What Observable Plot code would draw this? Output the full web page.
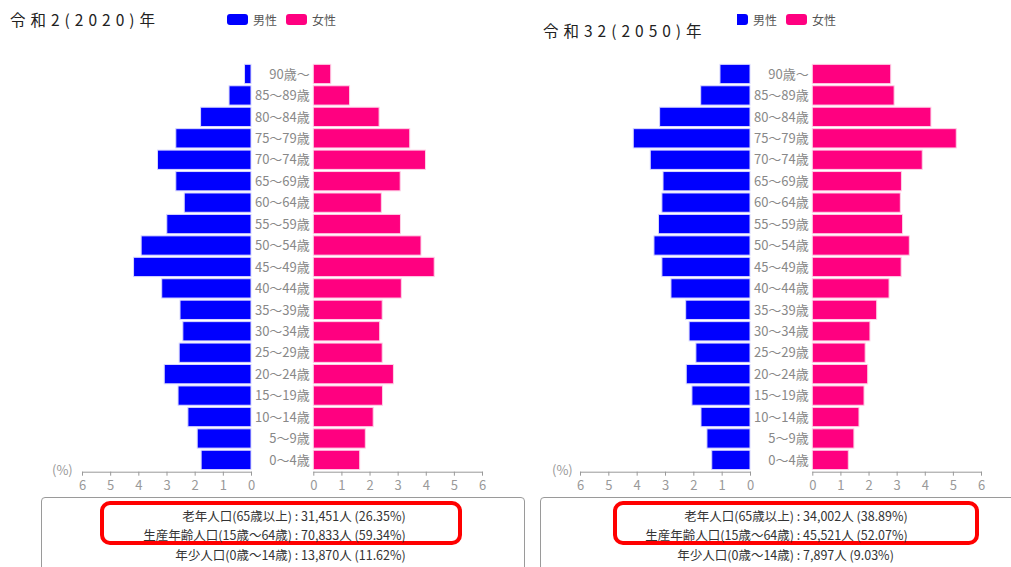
<!DOCTYPE html>
<html>
<head>
<meta charset="utf-8">
<script src="https://cdn.jsdelivr.net/npm/d3@7"></script>
<script src="https://cdn.jsdelivr.net/npm/@observablehq/plot@0.6"></script>
<style>
  html, body { margin: 0; padding: 0; background: #fff; }
  body { width: 1011px; height: 567px; position: relative; overflow: hidden;
         font-family: "Noto Sans CJK JP", "Noto Sans", sans-serif; }
  .abs { position: absolute; }
  .title { font-size: 15.5px; color: #222; letter-spacing: 5px; white-space: nowrap; }
  .legend { font-size: 12px; color: #555; display: flex; align-items: center; white-space: nowrap; }
  .sw { display: inline-block; width: 21px; height: 11px; border-radius: 3px; margin-right: 5px; }
  .pct { font-size: 13px; color: #999; }
  .box { border: 1.5px solid #9a9a9a; border-radius: 4px; box-sizing: border-box; }
  .red { border: 4px solid #ff0000; border-radius: 10px; box-sizing: border-box; }
  .sum { font-size: 12.5px; color: #333; line-height: 19.5px; white-space: nowrap; }
  .sum .row { display: flex; }
  .sum .lab { text-align: right; }
</style>
</head>
<body>
<div id="root"></div>
<script>
// ---- data ----
const ages = ["90歳～","85～89歳","80～84歳","75～79歳","70～74歳","65～69歳","60～64歳",
  "55～59歳","50～54歳","45～49歳","40～44歳","35～39歳","30～34歳","25～29歳",
  "20～24歳","15～19歳","10～14歳","5～9歳","0～4歳"];
const male2020   = [0.23,0.78,1.79,2.67,3.32,2.67,2.37,2.99,3.90,4.17,3.17,2.52,2.42,2.55,3.08,2.59,2.24,1.91,1.77];
const female2020 = [0.62,1.29,2.34,3.43,3.99,3.09,2.42,3.10,3.83,4.30,3.13,2.45,2.36,2.45,2.85,2.46,2.13,1.85,1.65];
const male2050   = [1.06,1.74,3.19,4.12,3.52,3.07,3.11,3.23,3.39,3.11,2.79,2.27,2.15,1.91,2.25,2.05,1.73,1.52,1.35];
const female2050 = [2.79,2.91,4.22,5.12,3.91,3.17,3.13,3.21,3.45,3.16,2.73,2.29,2.05,1.88,1.97,1.84,1.66,1.48,1.28];
const xTicks = [0,1,2,3,4,5,6];
const titles = ["令和2(2020)年","令和32(2050)年"];
const sexLabels = ["男性","女性"];
const sumLabels = ["老年人口(65歳以上)","生産年齢人口(15歳～64歳)","年少人口(0歳～14歳)"];
const sum2020 = ["31,451人 (26.35%)","70,833人 (59.34%)","13,870人 (11.62%)"];
const sum2050 = ["34,002人 (38.89%)","45,521人 (52.07%)","7,897人 (9.03%)"];

const maleColor = "#0000ff", femaleColor = "#ff0080";
const root = document.getElementById("root");

function place(el, left, top) {
  el.style.position = "absolute"; el.style.left = left + "px"; el.style.top = top + "px";
  el.style.background = "transparent";
  root.appendChild(el);
}

const H = 500, MT = 62.2, MB = 28.3;

function side(values, isMale, left, width, ml, mr) {
  const data = ages.map((a, i) => ({age: a, v: values[i]}));
  const marks = [
    Plot.barX(data, {x: "v", y: "age", fill: isMale ? maleColor : femaleColor,
      stroke: isMale ? "#d8d8ff" : "#ffd0e6", strokeWidth: 1}),
    Plot.frame({anchor: "bottom", stroke: "#999"}),
    Plot.axisX({ticks: xTicks, tickSize: 4, tickPadding: 5, color: "#999", fontSize: 13, label: null,
      tickFormat: d => String(d)})
  ];
  if (!isMale) marks.push(Plot.axisY({anchor: "left", tickSize: 0, tickPadding: 4, color: "#888",
      fontSize: 13, label: null}));
  const p = Plot.plot({
    width, height: H, marginTop: MT, marginBottom: MB, marginLeft: ml, marginRight: mr,
    style: {fontFamily: "'Noto Sans CJK JP', sans-serif", background: "transparent"},
    x: {domain: [0, 6], reverse: isMale, axis: null},
    y: {domain: ages, padding: 0.1, round: false, axis: null},
    marks
  });
  place(p, left, 0);
}

function pyramid(cfg) {
  side(cfg.male, true, cfg.mLeft, cfg.mWidth + 10, cfg.mML, 11);
  side(cfg.female, false, cfg.fLeft, cfg.fWidth, cfg.fML, 20);
  const pct = document.createElement("div");
  pct.className = "abs pct"; pct.textContent = "(%)";
  place(pct, cfg.pctX, 460);
  const t = document.createElement("div");
  t.className = "abs title"; t.textContent = cfg.title;
  place(t, cfg.titleX, cfg.titleY);
  const lg = document.createElement("div");
  lg.className = "abs legend";
  lg.innerHTML = `<span class="sw" style="background:${maleColor};width:${cfg.sw0}px;${cfg.sw0<21?'border-radius:0 3px 3px 0;':''}"></span>${sexLabels[0]}` +
    `<span class="sw" style="background:${femaleColor};margin-left:9px"></span>${sexLabels[1]}`;
  place(lg, cfg.legX, 11);
  const box = document.createElement("div");
  box.className = "abs box"; box.style.width = cfg.boxW + "px"; box.style.height = "100px";
  place(box, cfg.boxX, 497);
  const red = document.createElement("div");
  red.className = "abs red"; red.style.width = cfg.redW + "px"; red.style.height = "44px";
  place(red, cfg.redX, 501);
  const s = document.createElement("div");
  s.className = "abs sum";
  s.innerHTML = sumLabels.map((l, i) =>
    `<div class="row"><span class="lab" style="width:${cfg.labW}px">${l}</span><span>&nbsp;:&nbsp;${cfg.sum[i]}</span></div>`).join("");
  place(s, cfg.colonX - cfg.labW, 505.5);
}

pyramid({male: male2020, female: female2020, title: titles[0],
  mLeft: 40, mWidth: 212, mML: 42, fLeft: 252, fWidth: 250, fML: 61.3,
  pctX: 52, titleX: 10, titleY: 8, legX: 227, sw0: 21,
  boxX: 41, boxW: 484, redX: 100, redW: 362, sum: sum2020, labW: 250, colonX: 292});

pyramid({male: male2050, female: female2050, title: titles[1],
  mLeft: 539, mWidth: 212, mML: 41, fLeft: 751, fWidth: 250, fML: 61.3,
  pctX: 552, titleX: 543, titleY: 19, legX: 737, sw0: 11,
  boxX: 540, boxW: 500, redX: 613, redW: 366, sum: sum2050, labW: 250, colonX: 794});
</script>
</body>
</html>
